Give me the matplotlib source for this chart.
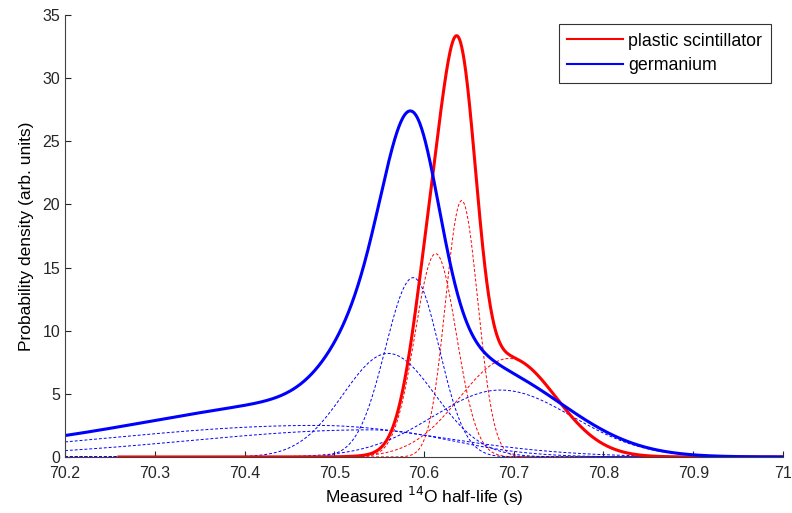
import matplotlib
matplotlib.use("Agg")
import matplotlib.pyplot as plt
import numpy as np

plt.rcParams["font.family"] = ["Liberation Sans", "DejaVu Sans"]

# Component parameters (centre, height, left/right width)
red_centres = [70.642, 70.613, 70.695]
red_heights = [20.3, 16.1, 7.8]
red_sig_left = [0.018, 0.023, 0.055]
red_sig_right = [0.018, 0.023, 0.052]

blue_centres = [70.588, 70.56, 70.685, 70.48, 70.54]
blue_heights = [14.2, 8.2, 5.3, 2.5, 2.15]
blue_sig_left = [0.031, 0.05, 0.075, 0.23, 0.2]
blue_sig_right = [0.029, 0.052, 0.08, 0.14, 0.09]

x_ticks = [70.2, 70.3, 70.4, 70.5, 70.6, 70.7, 70.8, 70.9, 71.0]
x_ticklabels = ["70.2", "70.3", "70.4", "70.5", "70.6", "70.7", "70.8", "70.9", "71"]
y_ticks = [0, 5, 10, 15, 20, 25, 30, 35]


def split_gauss(x, c, h, sl, sr):
    s = np.where(x < c, sl, sr)
    return h * np.exp(-0.5 * ((x - c) / s) ** 2)


x = np.linspace(70.2, 71.0, 1601)
x_red = x[x >= 70.26]

fig = plt.figure(figsize=(7.92, 5.13), dpi=100)
ax = fig.add_axes([0.0821, 0.1092, 0.9065, 0.8616])

red_total = np.zeros_like(x_red)
for c, h, sl, sr in zip(red_centres, red_heights, red_sig_left, red_sig_right):
    ax.plot(x, split_gauss(x, c, h, sl, sr), "--", color="red", lw=0.7, dashes=(3, 2))
    red_total += split_gauss(x_red, c, h, sl, sr)

blue_total = np.zeros_like(x)
for c, h, sl, sr in zip(blue_centres, blue_heights, blue_sig_left, blue_sig_right):
    ax.plot(x, split_gauss(x, c, h, sl, sr), "--", color="blue", lw=0.7, dashes=(3, 2))
    blue_total += split_gauss(x, c, h, sl, sr)

ax.plot(x_red, red_total, color="red", lw=2.2, label="plastic scintillator")
ax.plot(x, blue_total, color="blue", lw=2.2, label="germanium")

ax.set_xlim(70.2, 71.0)
ax.set_ylim(0, 35)
ax.set_xticks(x_ticks)
ax.set_xticklabels(x_ticklabels)
ax.set_yticks(y_ticks)
ax.tick_params(direction="in", labelsize=11.5, length=4, width=0.8, colors="0.15")
ax.tick_params(axis="x", pad=6.5)
for side in ["top", "right"]:
    ax.spines[side].set_visible(False)
for side in ["left", "bottom"]:
    ax.spines[side].set_color("0.25")
    ax.spines[side].set_linewidth(0.8)

ax.set_xlabel("Measured $^{14}$O half-life (s)", fontsize=12.5, labelpad=3)
ax.set_ylabel("Probability density (arb. units)", fontsize=12.5, labelpad=6)

leg = ax.legend(loc="upper right", bbox_to_anchor=(0.983, 0.98), fontsize=12.8,
                frameon=True, fancybox=False, handlelength=3.1, handletextpad=0.3,
                borderpad=0.5, labelspacing=0.4, borderaxespad=0.0)
leg.get_frame().set_edgecolor("black")
leg.get_frame().set_linewidth(0.8)
for line in leg.get_lines():
    line.set_linewidth(1.5)

fig.savefig("out.png", dpi=100)
